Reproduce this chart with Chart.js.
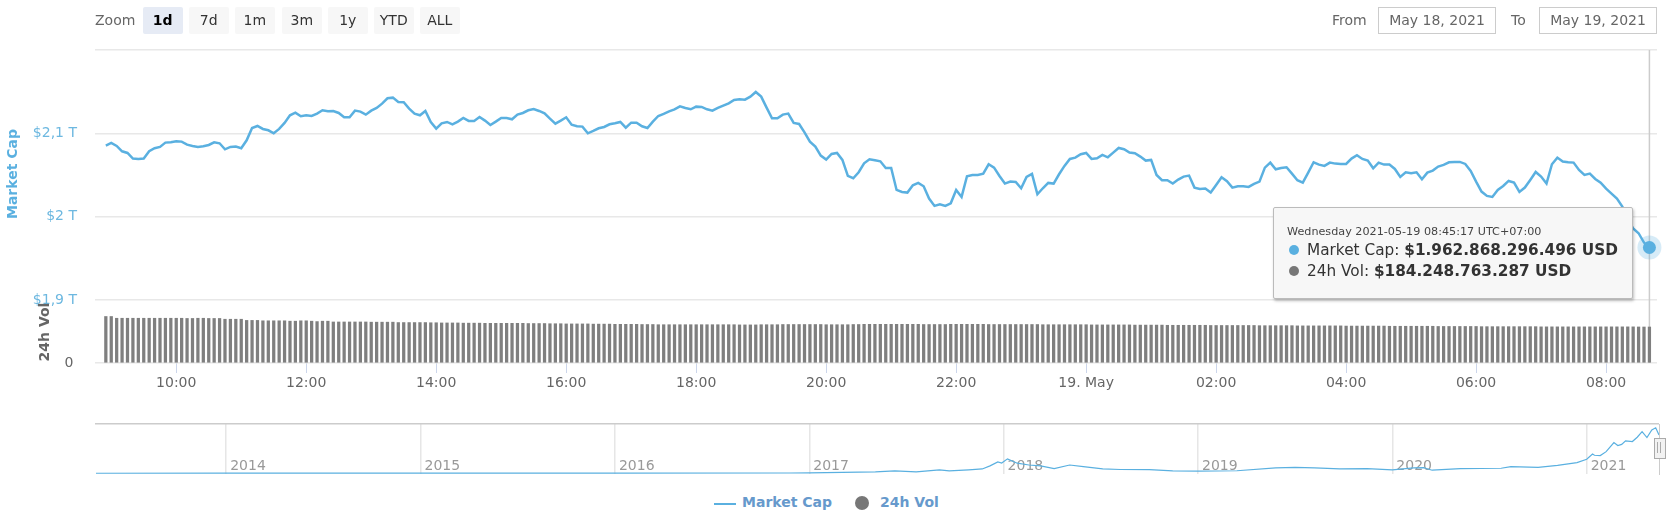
<!DOCTYPE html>
<html>
<head>
<meta charset="utf-8">
<script src="https://cdn.jsdelivr.net/npm/chart.js@4"></script>
<style>
  html, body { margin: 0; padding: 0; background: #fff; }
  body { width: 1671px; height: 528px; position: relative; overflow: hidden; font-family: "DejaVu Sans", sans-serif; }
  canvas { position: absolute; left: 0; }
  .abs { position: absolute; white-space: nowrap; }
  .btn { position: absolute; top: 7px; width: 39.5px; height: 27px; line-height: 27px; background: #f7f7f7; border-radius: 2px; text-align: center; font-size: 14px; color: #333; }
  .btn.on { background: #e6ebf5; font-weight: bold; color: #000; }
  .box { position: absolute; top: 7px; height: 25px; line-height: 25px; border: 1.5px solid #ccc; text-align: center; font-size: 14px; color: #666; box-sizing: content-box; }
  .rot { position: absolute; font-weight: bold; white-space: nowrap; transform: translate(-50%, -50%) rotate(-90deg); }
  #tip { position: absolute; left: 1273px; top: 207px; width: 358px; height: 90px; background: #f7f7f7; border: 1px solid #bbb; border-radius: 2px; box-shadow: 1px 2px 3px rgba(0,0,0,.25); color: #333; }
  #tip div { position: absolute; white-space: nowrap; }
  #tip i { display: inline-block; width: 10px; height: 10px; border-radius: 50%; margin-right: 8px; }
</style>
</head>
<body>
<canvas id="mainChart" width="1671" height="400" style="top:0"></canvas>
<canvas id="navChart" width="1671" height="56" style="top:420px"></canvas>

<div class="abs" style="left:95px;top:12px;font-size:14px;color:#666">Zoom</div>
<div class="btn on" style="left:143px">1d</div>
<div class="btn" style="left:189px">7d</div>
<div class="btn" style="left:235px">1m</div>
<div class="btn" style="left:282px">3m</div>
<div class="btn" style="left:328px">1y</div>
<div class="btn" style="left:374px">YTD</div>
<div class="btn" style="left:420px">ALL</div>

<div class="abs" style="left:1332px;top:12px;font-size:14px;color:#666">From</div>
<div class="box" style="left:1378px;width:116px">May 18, 2021</div>
<div class="abs" style="left:1511px;top:12px;font-size:14px;color:#666">To</div>
<div class="box" style="left:1539px;width:116px">May 19, 2021</div>

<div class="rot" style="left:11.5px;top:174px;font-size:14px;color:#5ab0e0">Market Cap</div>
<div class="rot" style="left:44px;top:332px;font-size:14px;color:#666">24h Vol</div>

<div id="tip">
  <div style="left:13px;top:17px;font-size:11.2px;color:#444">Wednesday 2021-05-19 08:45:17 UTC+07:00</div>
  <div style="left:15px;top:33px;font-size:15.3px"><i style="background:#5ab0e0"></i>Market Cap: <b>$1.962.868.296.496 USD</b></div>
  <div style="left:15px;top:54px;font-size:15.3px"><i style="background:#777"></i>24h Vol: <b>$184.248.763.287 USD</b></div>
</div>

<div class="abs" style="left:1659px;top:424px;width:1px;height:51px;background:#ccc"></div>
<div class="abs" style="left:1654px;top:438px;width:10px;height:19px;background:#f2f2f2;border:1px solid #aaa"></div>
<div class="abs" style="left:1657px;top:442px;width:1px;height:11px;background:#aaa"></div>
<div class="abs" style="left:1660px;top:442px;width:1px;height:11px;background:#aaa"></div>

<div class="abs" style="left:714px;top:502.5px;width:22px;height:2px;background:#5ab0e0"></div>
<div class="abs" style="left:742px;top:494px;font-size:14px;font-weight:bold;color:#6699cc">Market Cap</div>
<div class="abs" style="left:855px;top:496px;width:14px;height:14px;border-radius:50%;background:#777"></div>
<div class="abs" style="left:880px;top:494px;font-size:14px;font-weight:bold;color:#6699cc">24h Vol</div>

<script>
// minutes since midnight May 18
const times = [
  535,540,545,550,555,560,565,570,575,580,585,590,
  595,600,605,610,615,620,625,630,635,640,645,650,
  655,660,665,670,675,680,685,690,695,700,705,710,
  715,720,725,730,735,740,745,750,755,760,765,770,
  775,780,785,790,795,800,805,810,815,820,825,830,
  835,840,845,850,855,860,865,870,875,880,885,890,
  895,900,905,910,915,920,925,930,935,940,945,950,
  955,960,965,970,975,980,985,990,995,1000,1005,1010,
  1015,1020,1025,1030,1035,1040,1045,1050,1055,1060,1065,1070,
  1075,1080,1085,1090,1095,1100,1105,1110,1115,1120,1125,1130,
  1135,1140,1145,1150,1155,1160,1165,1170,1175,1180,1185,1190,
  1195,1200,1205,1210,1215,1220,1225,1230,1235,1240,1245,1250,
  1255,1260,1265,1270,1275,1280,1285,1290,1295,1300,1305,1310,
  1315,1320,1325,1330,1335,1340,1345,1350,1355,1360,1365,1370,
  1375,1380,1385,1390,1395,1400,1405,1410,1415,1420,1425,1430,
  1435,1440,1445,1450,1455,1460,1465,1470,1475,1480,1485,1490,
  1495,1500,1505,1510,1515,1520,1525,1530,1535,1540,1545,1550,
  1555,1560,1565,1570,1575,1580,1585,1590,1595,1600,1605,1610,
  1615,1620,1625,1630,1635,1640,1645,1650,1655,1660,1665,1670,
  1675,1680,1685,1690,1695,1700,1705,1710,1715,1720,1725,1730,
  1735,1740,1745,1750,1755,1760,1765,1770,1775,1780,1785,1790,
  1795,1800,1805,1810,1815,1820,1825,1830,1835,1840,1845,1850,
  1855,1860,1865,1870,1875,1880,1885,1890,1895,1900,1905,1910,
  1915,1920,1925,1930,1935,1940,1945,1950,1955,1960
];

// market cap, billions USD
const marketCap = [
  2085.2,2088.4,2084.8,2078.4,2076.4,2069.6,2069.2,2069.6,2078.4,2082,2083.6,2088.8,2089.2,2090.4,2090,2086.4,2084.8,2083.6,2084.4,2086,
  2089.2,2088,2080.8,2083.6,2084,2082,2091.6,2106.4,2108.8,2105.2,2103.6,2100,2105.2,2112.4,2121.6,2124.8,2120.4,2121.6,2120.8,2123.6,
  2127.6,2126.4,2126.8,2124.4,2119.2,2119.2,2127.2,2126,2122.4,2127.2,2130.4,2135.6,2142,2142.8,2137.6,2137.2,2129.6,2123.6,2121.6,2126.8,
  2113.6,2105.6,2112,2113.6,2110.8,2114,2118.4,2114.8,2114.8,2119.6,2115.2,
  2110,2114,2118.4,2118.4,2116.8,2122.4,2124.4,2127.6,2129.2,2126.8,2124,2117.6,2111.6,2115.2,2119.2,2110.4,2108.4,2108,2100,2102.8,
  2106,2107.6,2110.8,2112,2113.6,2106.8,2112.8,2112.8,2108.4,2106.4,2114,2120.8,2123.2,2126.4,2128.8,2132.4,2130.4,2128.8,2132,2131.6,
  2128.8,2127.2,2130.4,2133.2,2136,2140,2140.8,2140.4,2144,2149.6,2144,2130.8,2118,2118,2122.4,2123.6,2112.4,2111.2,2101.2,2090,
  2084,2073.2,2068.4,2075.2,2076.4,2068,2048.8,2046,2053.2,2064,2068.8,2067.6,
  2066.4,2058.4,2058.4,2032,2029.6,2028.8,2037.6,2040.4,2036.4,2021.6,2012.8,2014.8,2012.8,2016,2032,2023.6,2048.4,2050,2050,2051.6,
  2062.8,2058.8,2048.8,2039.6,2042,2041.6,2034,2047.6,2051.2,2026.8,2034,2040.4,2039.6,2050.8,2060.8,2069.2,2070.8,2074.8,2076.4,2069.2,
  2070,2074,2071.2,2076.8,2082.4,2080.8,2076.8,2076,2072,2067.2,2068,2050,2043.6,2043.6,2039.6,2044.4,2048,2049.2,2034.8,2033.2,
  2033.6,2028.8,2038,2047.2,2042.4,2034.8,2036.4,2036.4,2035.6,2039.2,2042,2058.8,
  2064.8,2056.8,2058.4,2059.2,2051.6,2043.6,2040.8,2052.8,2065.2,2062.4,2060.8,2064.8,2063.6,2063.2,2063.2,2069.6,2073.6,2069.2,2067.2,2058,
  2064.8,2062.4,2062.4,2057.2,2047.6,2053.2,2052,2053.2,2044.8,2052.8,2055.2,2060,2062,2065.2,2065.6,2065.6,2063.2,2054.8,2042,2030,
  2024.8,2023.6,2032,2036.8,2042.8,2040.8,2029.6,2034.8,2044,2053.6,2048,2039.6,2062.8,2070.8,2066,2065.2,2064.8,2056,2050,2051.6,
  2045.2,2040.8,2033.6,2027.6,2021.6,2012,1997.6,1985.6,1980,1968.8,1962.9
];

// 24h volume, billions USD
const volume = [
  238,238,229,229,229,229,229,229,229,229,
  229,229,229,229,229,228,228,229,229,228,
  228,228,224,224,224,224,218,218,218,216,
  216,216,216,216,214,214,216,216,214,212,
  214,214,210,210,210,210,210,210,210,209,
  209,209,209,209,207,207,207,207,207,207,
  206,206,205,205,205,205,204,204,204,204,
  203,203,203,203,203,203,203,203,202,202,
  202,202,201,201,201,200,200,200,200,200,
  199,199,199,199,198,198,198,198,198,197,
  197,197,196,196,196,196,196,196,196,196,
  196,196,196,196,196,196,196,195,195,195,
  195,196,196,196,196,197,197,197,197,197,
  197,197,197,196,196,196,196,196,197,197,
  198,198,198,198,198,198,198,198,198,198,
  198,197,197,197,197,197,198,198,198,198,
  198,198,198,197,197,197,197,197,197,197,
  197,197,197,196,196,196,196,196,196,196,
  196,196,195,195,195,195,195,195,195,195,
  194,194,194,194,194,194,193,193,193,193,
  193,193,193,193,192,192,192,192,192,192,
  192,192,192,191,191,191,191,191,191,191,
  190,190,190,190,190,190,190,190,190,189,
  189,189,189,189,189,189,189,188,188,188,
  188,188,188,188,188,188,187,187,187,187,
  187,187,187,187,186,186,186,186,186,186,
  186,186,186,186,186,185,185,185,185,185,
  185,185,185,185,185,185,185,185,185,185,
  185,185,185,184.5,184.3,184.25
];

const hourTicks = [600, 720, 840, 960, 1080, 1200, 1320, 1440, 1560, 1680, 1800, 1920];
const capTicks = [1900, 2000, 2100, 2200];
const volTicks = [0];

// navigator, whole history: year and market cap in trillions
const navYears = [2013.33,2014,2015,2016,2016.9,2017,2017.34,2017.44,2017.55,2017.67,2017.72,2017.82,2017.89,2017.93,2017.97,2017.99,2018.02,2018.07,2018.13,2018.19,2018.26,2018.34,2018.41,2018.51,2018.6,2018.75,2018.87,2019,2019.2,2019.4,2019.5,2019.6,2019.73,2019.87,2020,2020.11,2020.16,2020.205,2020.35,2020.56,2020.61,2020.75,2020.85,2020.95,2021,2021.03,2021.04,2021.07,2021.1,2021.14,2021.16,2021.18,2021.2,2021.235,2021.26,2021.285,2021.31,2021.335,2021.355,2021.372];
const navCap = [0.002,0.01,0.005,0.007,0.015,0.018,0.074,0.13,0.074,0.185,0.13,0.185,0.24,0.41,0.63,0.57,0.8,0.56,0.46,0.41,0.26,0.46,0.37,0.24,0.21,0.2,0.13,0.125,0.14,0.3,0.33,0.3,0.24,0.26,0.19,0.3,0.31,0.17,0.26,0.28,0.37,0.33,0.44,0.59,0.78,1.07,1,0.98,1.2,1.7,1.54,1.6,1.8,1.76,2,2.31,1.98,2.4,2.52,2.13];
const yearTicks = [2014, 2015, 2016, 2017, 2018, 2019, 2020, 2021];

const capColor = '#5ab0e0';
const volColor = '#7f7f7f';
const gridColor = '#e8e8e8';
const lastIdx = marketCap.length - 1;

function hourLabel(v) {
  if (v === 1440) return '19. May';
  const h = (v / 60) % 24;
  return (h < 10 ? '0' : '') + h + ':00';
}

const crosshair = {
  id: 'crosshair',
  beforeDatasetsDraw(chart) {
    const c = chart.ctx;
    const pt = chart.getDatasetMeta(1).data[lastIdx];
    c.save();
    c.strokeStyle = '#ccc';
    c.lineWidth = 1.5;
    c.beginPath();
    c.moveTo(pt.x, chart.chartArea.top);
    c.lineTo(pt.x, chart.chartArea.bottom);
    c.stroke();
    c.restore();
  },
  afterDatasetsDraw(chart) {
    const c = chart.ctx;
    const pt = chart.getDatasetMeta(1).data[lastIdx];
    c.save();
    c.fillStyle = 'rgba(90,176,224,.25)';
    c.beginPath();
    c.arc(pt.x, pt.y, 12, 0, Math.PI * 2);
    c.fill();
    c.fillStyle = capColor;
    c.beginPath();
    c.arc(pt.x, pt.y, 6.5, 0, Math.PI * 2);
    c.fill();
    c.restore();
  }
};

new Chart(document.getElementById('mainChart').getContext('2d'), {
  type: 'bar',
  data: {
    datasets: [
      {
        type: 'bar',
        data: volume.map((v, i) => ({ x: times[i], y: v })),
        yAxisID: 'yVol',
        backgroundColor: volColor,
        barThickness: 2.6
      },
      {
        type: 'line',
        data: marketCap.map((v, i) => ({ x: times[i], y: v })),
        yAxisID: 'yCap',
        borderColor: capColor,
        borderWidth: 2.5,
        pointRadius: 0,
        tension: 0
      }
    ]
  },
  options: {
    responsive: false,
    animation: false,
    events: [],
    layout: { padding: { top: 50, right: 14, left: 0, bottom: 0 } },
    plugins: { legend: { display: false }, tooltip: { enabled: false } },
    scales: {
      x: {
        type: 'linear',
        offset: false,
        min: 525,
        max: 1967,
        afterFit: s => { s.height = 37; },
        afterBuildTicks: s => { s.ticks = hourTicks.map(v => ({ value: v })); },
        border: { display: false },
        grid: { drawOnChartArea: false, drawTicks: true, tickLength: 10, color: '#ccd6eb', offset: false },
        ticks: {
          maxRotation: 0,
          autoSkip: false,
          padding: 2,
          color: '#666',
          font: { family: 'DejaVu Sans', size: 14 },
          callback: hourLabel
        }
      },
      yCap: {
        position: 'left',
        weight: 1,
        min: 1824.2,
        max: 2200,
        afterFit: s => { s.width = 95; },
        afterBuildTicks: s => { s.ticks = capTicks.map(v => ({ value: v })); },
        border: { display: false },
        grid: { color: gridColor, lineWidth: 1.5, drawTicks: false },
        ticks: {
          padding: 18,
          color: '#6db8e0',
          font: { family: 'DejaVu Sans', size: 14 },
          callback: v => v === 2200 ? '' : '$' + String(v / 1000).replace('.', ',') + ' T'
        }
      },
      yVol: {
        position: 'left',
        weight: 0,
        min: 0,
        max: 1602,
        afterFit: s => { s.width = 0; },
        afterBuildTicks: s => { s.ticks = volTicks.map(v => ({ value: v })); },
        border: { display: false },
        grid: { color: gridColor, lineWidth: 1.5, drawTicks: false },
        // mirror keeps the label from being clipped to the zero width axis box
        ticks: {
          mirror: true,
          padding: -30.5,
          color: '#666',
          font: { family: 'DejaVu Sans', size: 14 }
        }
      }
    }
  },
  plugins: [crosshair]
});

new Chart(document.getElementById('navChart').getContext('2d'), {
  type: 'line',
  data: {
    datasets: [{
      data: navCap.map((v, i) => ({ x: navYears[i], y: v })),
      borderColor: capColor,
      borderWidth: 1.2,
      pointRadius: 0,
      tension: 0
    }]
  },
  options: {
    responsive: false,
    animation: false,
    events: [],
    layout: { padding: { top: 3.7, right: 12, left: 95, bottom: 0 } },
    plugins: { legend: { display: false }, tooltip: { enabled: false } },
    scales: {
      x: {
        type: 'linear',
        min: 2013.325,
        max: 2021.372,
        afterFit: s => { s.height = 2; },
        afterBuildTicks: s => { s.ticks = yearTicks.map(v => ({ value: v })); },
        border: { display: false },
        grid: { color: '#e6e6e6', lineWidth: 1.5, drawTicks: false },
        ticks: {
          mirror: true,
          align: 'start',
          labelOffset: 4,
          padding: -1,
          maxRotation: 0,
          autoSkip: false,
          color: '#999',
          font: { family: 'DejaVu Sans', size: 14 },
          callback: v => String(v)
        }
      },
      y: {
        min: -0.04,
        max: 2.75,
        afterFit: s => { s.width = 0; },
        afterBuildTicks: s => { s.ticks = [{ value: s.max }]; },
        border: { display: false },
        grid: { color: '#ccc', lineWidth: 1.5, drawTicks: false },
        ticks: { display: false }
      }
    }
  }
});
</script>
</body>
</html>
